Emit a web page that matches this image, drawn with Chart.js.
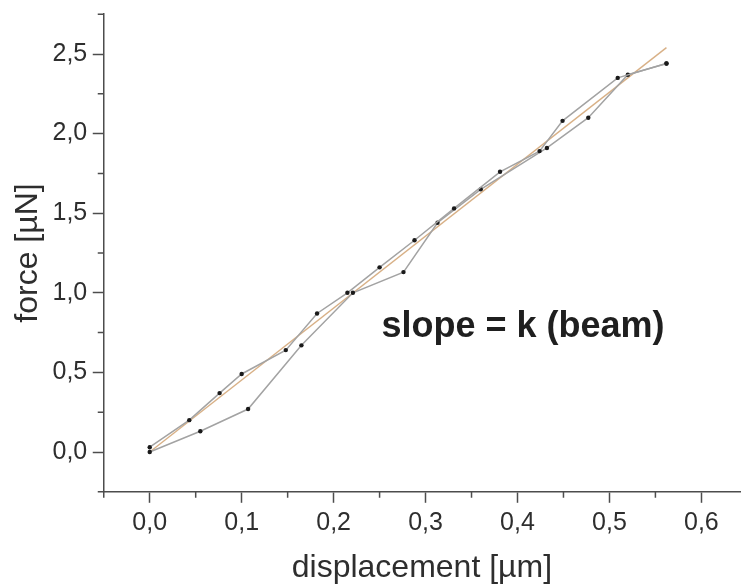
<!DOCTYPE html>
<html>
<head>
<meta charset="utf-8">
<script src="https://cdn.jsdelivr.net/npm/chart.js@4/dist/chart.umd.min.js"></script>
<style>
  html, body { margin: 0; padding: 0; background: #fff; }
  #wrap { width: 744px; height: 585px; }
</style>
</head>
<body>
<div id="wrap"><canvas id="c" width="744" height="585"></canvas></div>
<script>
// ---- data ----
const branchAX = [0.000, 0.043, 0.076, 0.100, 0.148, 0.182, 0.215, 0.250, 0.288, 0.331, 0.381, 0.424, 0.449, 0.509, 0.562];
const branchAY = [0.03, 0.20, 0.37, 0.49, 0.64, 0.87, 1.00, 1.16, 1.33, 1.53, 1.76, 1.89, 2.08, 2.35, 2.44];
const branchBX = [0.562, 0.520, 0.477, 0.432, 0.360, 0.313, 0.276, 0.221, 0.165, 0.107, 0.055, 0.000];
const branchBY = [2.44, 2.37, 2.10, 1.91, 1.65, 1.44, 1.13, 1.00, 0.67, 0.27, 0.13, 0.00];
const fitX = [0.000, 0.562];
const fitY = [0.00, 2.54];

const xMajorTicks = [0.0, 0.1, 0.2, 0.3, 0.4, 0.5, 0.6];
const xMinorTicks = [-0.05, 0.05, 0.15, 0.25, 0.35, 0.45, 0.55];
const yMajorTicks = [0.0, 0.5, 1.0, 1.5, 2.0, 2.5];
const yMinorTicks = [-0.25, 0.25, 0.75, 1.25, 1.75, 2.25, 2.75];

const xTitle = 'displacement [µm]';
const yTitle = 'force [µN]';
const noteText = 'slope = k (beam)';
const notePos = { x: 0.252, y: 0.722 };

const toPts = (xs, ys) => xs.map((x, i) => ({ x: x, y: ys[i] }));
const fmt = v => v.toFixed(1).replace('.', ',');

const AXIS = '#4d4d4d';
const TEXT = '#2e2e2e';
const FONT = "'Liberation Sans', Arial, Helvetica, sans-serif";

const minorTicksPlugin = {
  id: 'minorTicks',
  afterDraw(chart) {
    const ctx = chart.ctx;
    const xs = chart.scales.x, ys = chart.scales.y;
    const area = chart.chartArea;
    ctx.save();
    ctx.strokeStyle = AXIS;
    ctx.lineWidth = 1.5;
    ctx.beginPath();
    xMinorTicks.forEach(v => {
      const px = xs.getPixelForValue(v);
      ctx.moveTo(px, area.bottom);
      ctx.lineTo(px, area.bottom + 6);
    });
    yMinorTicks.forEach(v => {
      const py = ys.getPixelForValue(v);
      ctx.moveTo(area.left, py);
      ctx.lineTo(area.left - 6, py);
    });
    ctx.stroke();
    // annotation text
    ctx.fillStyle = '#1f1f1f';
    ctx.font = "bold 36px " + FONT;
    ctx.textAlign = 'left';
    ctx.textBaseline = 'alphabetic';
    ctx.fillText(noteText, xs.getPixelForValue(notePos.x), ys.getPixelForValue(notePos.y));
    ctx.restore();
  }
};

new Chart(document.getElementById('c'), {
  type: 'scatter',
  data: {
    datasets: [
      {
        data: toPts(fitX, fitY),
        showLine: true,
        borderColor: 'rgba(214,172,128,0.95)',
        borderWidth: 1.4,
        pointRadius: 0,
        order: 3
      },
      {
        data: toPts(branchAX, branchAY),
        showLine: true,
        borderColor: '#a3a3a3',
        borderWidth: 1.5,
        pointRadius: 2.2,
        pointBackgroundColor: '#1a1a1a',
        pointBorderWidth: 0,
        order: 1
      },
      {
        data: toPts(branchBX, branchBY),
        showLine: true,
        borderColor: '#a3a3a3',
        borderWidth: 1.5,
        pointRadius: 2.2,
        pointBackgroundColor: '#1a1a1a',
        pointBorderWidth: 0,
        order: 2
      }
    ]
  },
  options: {
    responsive: false,
    animation: false,
    devicePixelRatio: 1,
    layout: { padding: { top: 14.2, right: 0, left: 0, bottom: 0 } },
    plugins: { legend: { display: false }, tooltip: { enabled: false } },
    scales: {
      x: {
        type: 'linear',
        min: -0.05,
        max: 0.642,
        afterBuildTicks: s => { s.ticks = xMajorTicks.map(v => ({ value: v })); },
        afterFit: s => { s.height = 93.2; s.paddingLeft = 0; s.paddingRight = 0; },
        grid: { display: true, drawOnChartArea: false, drawTicks: true, tickLength: 11, tickColor: AXIS, tickWidth: 1.5 },
        border: { display: true, color: AXIS, width: 1.5 },
        ticks: {
          callback: v => fmt(v),
          color: TEXT,
          padding: 5,
          maxRotation: 0,
          autoSkip: false,
          font: { family: FONT, size: 25 }
        },
        title: {
          display: true,
          text: xTitle,
          color: TEXT,
          font: { family: FONT, size: 32, lineHeight: 1 },
          padding: { top: 0, bottom: 1 }
        }
      },
      y: {
        type: 'linear',
        min: -0.25,
        max: 2.75,
        afterBuildTicks: s => { s.ticks = yMajorTicks.map(v => ({ value: v })); },
        afterFit: s => { s.width = 103.75; s.paddingTop = 0; s.paddingBottom = 0; },
        grid: { display: true, drawOnChartArea: false, drawTicks: true, tickLength: 11, tickColor: AXIS, tickWidth: 1.5 },
        border: { display: true, color: AXIS, width: 1.5 },
        ticks: {
          callback: v => fmt(v),
          color: TEXT,
          padding: 5.5,
          autoSkip: false,
          font: { family: FONT, size: 25 }
        },
        title: {
          display: true,
          text: yTitle,
          color: TEXT,
          font: { family: FONT, size: 32, lineHeight: 1 },
          padding: { top: 12, bottom: 0 }
        }
      }
    }
  },
  plugins: [minorTicksPlugin]
});
</script>
</body>
</html>
